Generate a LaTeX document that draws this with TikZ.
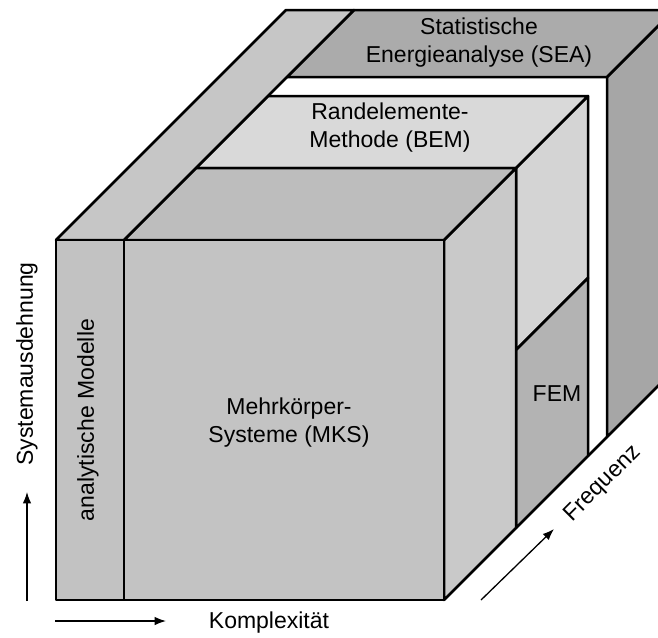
\documentclass[tikz,border=0pt]{standalone}
\usepackage{fontspec}
\setmainfont{Liberation Sans}
\usetikzlibrary{arrows.meta}
\definecolor{anaTop}{HTML}{C6C6C6}
\definecolor{anaFront}{HTML}{C2C2C2}
\definecolor{mksFront}{HTML}{C3C3C3}
\definecolor{mksTop}{HTML}{BDBDBD}
\definecolor{mksSide}{HTML}{C9C9C9}
\definecolor{bemTop}{HTML}{D9D9D9}
\definecolor{bemSide}{HTML}{D4D4D4}
\definecolor{femSide}{HTML}{B3B3B3}
\definecolor{seaTop}{HTML}{ABABAB}
\definecolor{seaSide}{HTML}{A6A6A6}

\begin{document}
\begin{tikzpicture}[x=1pt,y=-1pt,
  face/.style={draw=black,line width=2.5pt,line join=round},
  lbl/.style={align=center,font=\fontsize{23}{28}\selectfont},
  axis/.style={-{Latex[length=4mm,width=3mm]},line width=1.3pt}]
\clip (0,0) rectangle (658,637);

\fill[white] (287,77) rectangle (607,437);
\filldraw[face,fill=seaSide] (607,77) -- (674,10) -- (674,370) -- (607,437) -- cycle;
\filldraw[face,fill=seaTop] (287,77) -- (607,77) -- (674,10) -- (354,10) -- cycle;
\draw[face] (588,456) -- (607,437);

\filldraw[face,fill=bemSide] (516,168) -- (588,96) -- (588,278) -- (516,350) -- cycle;
\filldraw[face,fill=femSide] (516,350) -- (588,278) -- (588,456) -- (516,528) -- cycle;
\filldraw[face,fill=bemTop] (196,168) -- (516,168) -- (588,96) -- (268,96) -- cycle;

\filldraw[face,fill=mksSide] (444,240) -- (516,168) -- (516,528) -- (444,600) -- cycle;
\filldraw[face,fill=mksTop] (124,240) -- (444,240) -- (516,168) -- (196,168) -- cycle;
\filldraw[face,fill=anaTop] (56,240) -- (124,240) -- (354,10) -- (286,10) -- cycle;
\filldraw[face,fill=mksFront] (124,240) rectangle (444,600);
\filldraw[face,fill=anaFront] (56,240) rectangle (124,600);

\node[lbl] (sea) at (479,43) {Statistische\\Energieanalyse (SEA)};
\node[lbl] (bem) at (390,128) {Randelemente-\\Methode (BEM)};
\node[lbl] (mks) at (289,423) {Mehrkörper-\\Systeme (MKS)};
\node[lbl] (fem) at (557,394) {FEM};
\node[lbl,rotate=90] (ana) at (88,420) {analytische Modelle};

\node[lbl,rotate=90] (ausd) at (27,364) {Systemausdehnung};
\node[lbl] (kompl) at (269,623) {Komplexität};
\node[lbl,rotate=45] (freq) at (603,484) {Frequenz};

\coordinate (ausdA) at (27,601);
\coordinate (ausdB) at (27,492);
\coordinate (komplA) at (55,621);
\coordinate (komplB) at (166,621);
\coordinate (freqA) at (481,600);
\coordinate (freqB) at (554,529);
\draw[axis] (ausdA) -- (ausdB);
\draw[axis] (komplA) -- (komplB);
\draw[axis] (freqA) -- (freqB);
\end{tikzpicture}
\end{document}
